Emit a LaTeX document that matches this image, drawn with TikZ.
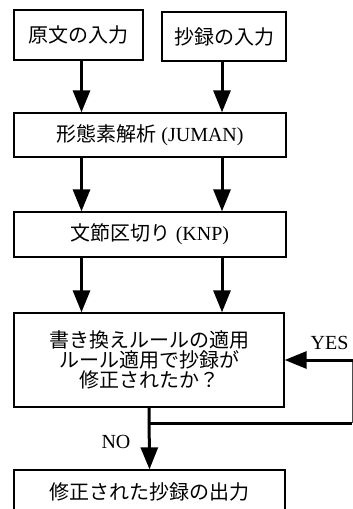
\documentclass[tikz,border=0pt]{standalone}
\usepackage{fontspec}
\setmainfont{Liberation Serif}
\newfontfamily\jp{Noto Sans CJK JP}[Scale=1.0]
\usetikzlibrary{arrows.meta}

\begin{document}
\begin{tikzpicture}[
    % One unit is one pixel of the 353x509 frame, y runs downwards.
    x=1pt,
    y=-1pt,
    font=\fontsize{20}{20}\selectfont
]
    % --- Style Definitions ---
    % 'stage' boxes hold the processing steps.
    % 'flow' is the thick arrow between the steps.
    \tikzstyle{stage} = [draw, line width=1.3pt, inner sep=0pt, align=center]
    \tikzstyle{flow} = [draw, line width=3pt, -{Triangle[length=22pt,width=17pt]}]
    \tikzstyle{bar} = [draw, line width=3pt]

    \useasboundingbox (0,0) rectangle (353,509);

    % --- Processing Steps ---
    \node[stage, minimum width=129pt, minimum height=50pt] (orig) at (78.5,35) {\jp 原文の入力};
    \node[stage, minimum width=124pt, minimum height=49pt] (abst) at (224,36.5) {\jp 抄録の入力};
    \node[stage, minimum width=272pt, minimum height=44pt] (juman) at (150,135) {{\jp 形態素解析} (JUMAN)};
    \node[stage, minimum width=272pt, minimum height=45pt] (knp) at (150,234.5) {{\jp 文節区切り} (KNP)};
    \node[stage, minimum width=270pt, minimum height=94pt] (rule) at (149,360)
        {\jp 書き換えルールの適用\\ \jp ルール適用で抄録が\\ \jp 修正されたか？};
    \node[stage, minimum width=271pt, minimum height=44pt] (out) at (149.5,492) {\jp 修正された抄録の出力};

    % --- Columns of the two input streams ---
    \def\colL{81.5}
    \def\colR{222}
    \coordinate (L) at (\colL,0);
    \coordinate (R) at (\colR,0);

    % --- Straight Flow ---
    \draw[flow] (orig.south -| L) -- (juman.north -| L);
    \draw[flow] (abst.south -| R) -- (juman.north -| R);
    \draw[flow] (juman.south -| L) -- (knp.north -| L);
    \draw[flow] (juman.south -| R) -- (knp.north -| R);
    \draw[flow] (knp.south -| L) -- (rule.north -| L);
    \draw[flow] (knp.south -| R) -- (rule.north -| R);
    \draw[flow] (rule.south) -- (out.north) node[pos=0.55, left=14pt] {NO};

    % --- Loop Back ---
    \coordinate (turn) at (352,423);
    \coordinate (join) at (rule.south |- turn);
    \coordinate (corner) at (turn |- rule.east);
    \draw[bar] (join) -- (turn);
    \draw[line width=1pt, black!70] (turn) -- (corner);
    \draw[flow] ([xshift=1pt]corner) -- (rule.east);
    \node[anchor=base east] (yes) at ([yshift=11pt]corner) {YES};
\end{tikzpicture}
\end{document}
